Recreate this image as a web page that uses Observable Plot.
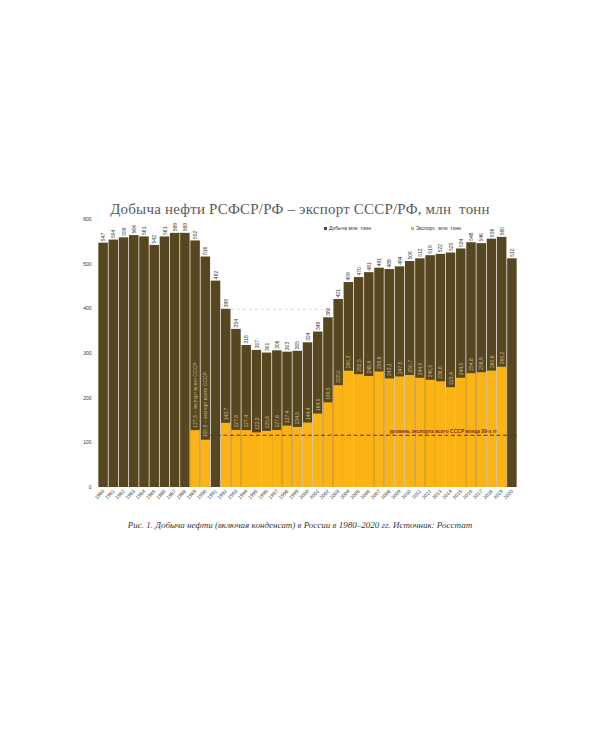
<!DOCTYPE html>
<html><head><meta charset="utf-8">
<script src="https://cdn.jsdelivr.net/npm/d3@7"></script>
<script src="https://cdn.jsdelivr.net/npm/@observablehq/plot@0.6"></script>
<style>
body{margin:0;background:#fff;width:600px;height:750px;position:relative;font-family:"Liberation Sans",sans-serif;}
#title{position:absolute;top:201px;left:0;width:600px;text-align:center;font-family:"Liberation Serif",serif;font-size:15px;color:#5a5a5a;line-height:16px;letter-spacing:0.2px;}
#chart{position:absolute;top:217px;left:0;}
#legend{position:absolute;top:225px;left:324px;font-size:5px;color:#333;display:flex;gap:40px;align-items:center;line-height:6px;}
#legend span.sw{display:inline-block;width:3px;height:3px;margin-right:2px;vertical-align:middle;}
#caption{position:absolute;top:520px;left:0;width:600px;text-align:center;font-family:"Liberation Serif",serif;font-style:italic;font-size:9px;color:#333;}
</style></head>
<body>
<div id="title">Добыча нефти РСФСР/РФ – экспорт СССР/РФ, млн&nbsp; тонн</div>
<div id="chart"></div>
<div id="legend"><div><span class="sw" style="background:#574720"></span>Добыча млн&nbsp; тонн</div><div><span class="sw" style="background:#fbb414"></span>Экспорт,&nbsp; млн&nbsp; тонн</div></div>
<div id="caption">Рис. 1. Добыча нефти (включая конденсат) в России в 1980–2020 гг. Источник: Росстат</div>
<script>
const years = d3.range(1980, 2021);
const production = [547,554,559,564,561,542,561,569,569,552,516,462,399,354,318,307,301,306,303,305,324,348,380,421,459,470,481,491,488,494,506,512,519,522,525,534,548,546,556,560,512];
const exports = [null,null,null,null,null,null,null,null,null,127.3,105.9,null,143.7,127.8,127.4,122.3,125.6,127.6,137.4,134.5,144.4,164.5,189.5,228.0,260.3,252.5,248.4,258.6,243.1,247.5,250.7,244.5,240.0,236.6,223.4,244.5,254.8,256.9,260.6,269.2,null];
const ussrNoteYears = [1989, 1990];
const ussrNote = " – экспорт всего СССР";
const ussrLevel = 117;
const ussrLevelLabel = "уровень экспорта всего СССР конца 80-х гг";
const ussrLevelSpan = [1990.5, 2020.5];
const ussrLabelYear = 2018.5;
const level1992 = 399;
const level1992Span = [1992.5, 2001.5];
const yTicks = [0,100,200,300,400,500,600];

const dark = "#574720", yellow = "#fbb414";
const fmt = v => v.toFixed(1).replace(".", ",");
const prodData = years.map((y,i)=>({year:y, prod:production[i]}));
const expData = years.map((y,i)=>({year:y, exp:exports[i]})).filter(d=>d.exp!=null);

const chart = Plot.plot({
  width: 600, height: 294,
  marginLeft: 98, marginRight: 83, marginTop: 2, marginBottom: 24,
  x: {type:"linear", domain:[1979.5, 2020.5]},
  y: {domain:[0,600]},
  style: {fontFamily:"Liberation Sans, sans-serif", background:"#fff"},
  marks: [
    Plot.rectY(prodData, {x1: d=>d.year-0.5, x2: d=>d.year+0.5, y:"prod", fill: dark, insetLeft:0.35, insetRight:0.35}),
    Plot.rectY(expData, {x1: d=>d.year-0.5, x2: d=>d.year+0.5, y:"exp", fill: yellow, insetLeft:0.35, insetRight:0.35}),
    Plot.ruleY([{y:level1992, x1:level1992Span[0], x2:level1992Span[1]}], {y:"y", x1:"x1", x2:"x2", stroke:"#c8c8c8", strokeDasharray:"3,3", strokeWidth:0.8}),
    Plot.ruleY([{y:ussrLevel, x1:ussrLevelSpan[0], x2:ussrLevelSpan[1]}], {y:"y", x1:"x1", x2:"x2", stroke:"#7a2a10", strokeDasharray:"4,2.5", strokeWidth:1.1}),
    Plot.text([{x:ussrLabelYear, y:ussrLevel, t:ussrLevelLabel}], {x:"x", y:"y", text:"t", textAnchor:"end", dy:-4, fontSize:5, fill:"#8a2a10", fontWeight:"bold"}),
    Plot.text(prodData, {x:"year", y:"prod", text: d=>String(d.prod), rotate:-90, textAnchor:"start", dy:-2, fontSize:5, fill:"#333"}),
    Plot.text(expData, {x:"year", y:"exp", text: d=>fmt(d.exp) + (ussrNoteYears.includes(d.year) ? ussrNote : ""), rotate:-90, textAnchor:"start", dy:-3, fontSize:5, fill:"#cdb880"}),
    Plot.axisY({ticks: yTicks, tickSize:0, tickPadding:7, fontSize:5, fill:"#333", label:null}),
    Plot.axisX({ticks: years, tickFormat: d=>String(d), tickSize:0, tickRotate:-45, tickPadding:3, fontSize:5, fill:"#333", label:null})
  ]
});
document.getElementById("chart").appendChild(chart);
</script>
</body></html>
